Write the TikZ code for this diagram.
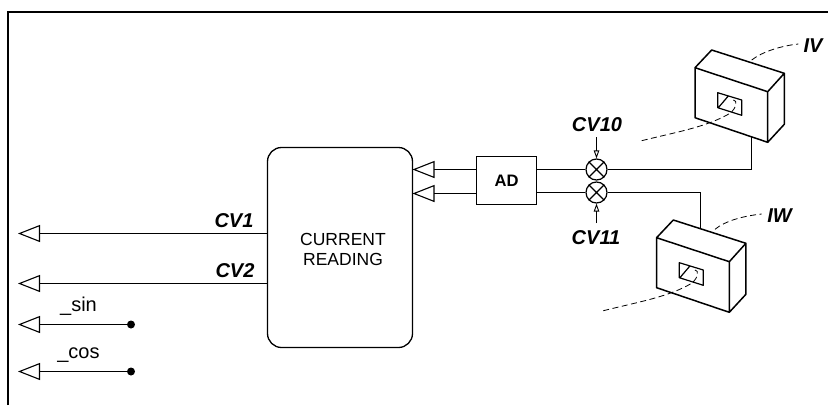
\documentclass[tikz,border=0pt]{standalone}
\usepackage{fontspec}
\setmainfont{Liberation Sans}
\usetikzlibrary{arrows.meta}
\tikzset{
  x=1pt,y=-1pt,
  conn/.style={line width=1.3pt,black},
  outarrow/.style={conn,-{Triangle[open,length=22pt,width=17pt,line width=1.1pt]}},
  ctrl/.style={line width=1.1pt,-{Triangle[open,length=8pt,width=5.5pt,line width=0.9pt]}},
  leader/.style={line width=0.8pt,dash pattern=on 6pt off 3.5pt},
  lab/.style={font=\fontsize{20}{20}\selectfont\bfseries\itshape,inner sep=0pt,anchor=base},
  plain/.style={font=\fontsize{20}{20}\selectfont,inner sep=0pt,anchor=base},
  mixer/.style={circle,draw,line width=1.2pt,minimum size=21pt,inner sep=0pt},
  blockbox/.style={draw,line width=1.3pt,inner sep=0pt},
  dotnode/.style={circle,fill=black,inner sep=0pt,minimum size=8pt},
  meter/.pic={
    \draw[line width=1.5pt,line join=round]
      (-16.7,17.7) -- (0,0) -- (72.6,23.3) -- (56,41.7) -- (-16.7,17.7) -- (-16.7,67.7)
      -- (56,92.3) -- (56,41.7) (56,92.3) -- (72.6,74.3) -- (72.6,23.3);
    \draw[line width=1.2pt,line join=round]
      (6,42.7) -- (30,50) -- (30,65.3) -- (6,57.7) -- cycle (6.6,57.7) -- (16.6,46);
    \draw[leader] (-70,90.7) .. controls (-35,82) and (-5,77) .. (18.3,63.3)
      .. controls (25,58) and (26,50) .. (21.6,50);
    \coordinate (-front) at (39.8,86.6);
    \coordinate (-back) at (27.2,7.5);
  }
}
\begin{document}
\begin{tikzpicture}
\useasboundingbox (0,0) rectangle (828,405);
\fill[white] (0,0) rectangle (828,405);
% frame
\coordinate (fa) at (8,405);
\coordinate (fb) at (8,12);
\coordinate (fc) at (828,12);
\draw[line width=2pt,miter limit=4] (fa) -- (fb) -- (fc);

% blocks
\node[blockbox,rounded corners=14pt,minimum width=145pt,minimum height=200pt] (reading) at (340,247.5) {};
\node[inner sep=0pt,align=center,font=\fontsize{17.5}{20}\selectfont] (readingtext) at (343,249) {CURRENT\\READING};
\node[blockbox,minimum width=60pt,minimum height=48pt,font=\fontsize{16.6}{17}\selectfont\bfseries] (ad) at (506.5,180.5) {AD};
\node[mixer] (m1) at (596.5,169.5) {};
\node[mixer] (m2) at (596.5,192.5) {};
\foreach \m in {m1,m2}{
  \draw[line width=1.2pt] (\m.45) -- (\m.225) (\m.135) -- (\m.315);
}

% meters
\pic (mv) at (711.7,50) {meter};
\pic (mw) at (673.3,220) {meter};

% connectors right side
\coordinate (in1) at (412.5,169.5);
\coordinate (in2) at (412.5,193.5);
\draw[outarrow] (ad.west |- in1) -- (in1);
\draw[outarrow] (ad.west |- in2) -- (in2);
\draw[conn] (m1.west) -- (ad.east |- m1.west);
\draw[conn] (m2.west) -- (ad.east |- m2.west);
\draw[conn] (m1.east) -| (mv-front);
\draw[conn] (m2.east) -| (mw-back);

% control arrows
\coordinate (c10) at (596.5,137);
\coordinate (c11) at (596.5,223);
\draw[ctrl] (c10) -- (m1.north);
\draw[ctrl] (c11) -- (m2.south);

% outputs
\coordinate (o1) at (18,233.5);
\coordinate (o2) at (18,283.5);
\draw[outarrow] (reading.west |- o1) -- (o1);
\draw[outarrow] (reading.west |- o2) -- (o2);
\node[dotnode] (ds) at (131,324.5) {};
\node[dotnode] (dc) at (131,371.5) {};
\coordinate (o3) at (18,324.5);
\coordinate (o4) at (18,371.5);
\draw[outarrow] (ds) -- (o3);
\draw[outarrow] (dc) -- (o4);

% leaders
\coordinate (lv0) at (751.7,60);
\coordinate (lv1) at (798.3,44);
\draw[leader] (lv0) .. controls (762,52) and (780,46) .. (lv1);
\coordinate (lw0) at (715,229.3);
\coordinate (lw1) at (761.7,214);
\draw[leader] (lw0) .. controls (725,221) and (743,216) .. (lw1);

% labels
\node[lab] (tcv1) at (234,227) {CV1};
\node[lab] (tcv2) at (235,277.7) {CV2};
\node[lab] (tcv10) at (597,131.7) {CV10};
\node[lab] (tcv11) at (596,244.7) {CV11};
\node[lab] (tiv) at (813,52) {IV};
\node[lab] (tiw) at (779.5,222) {IW};
\node[plain] (tsin) at (78.5,311) {\_sin};
\node[plain] (tcos) at (78.5,358) {\_cos};
\end{tikzpicture}
\end{document}
